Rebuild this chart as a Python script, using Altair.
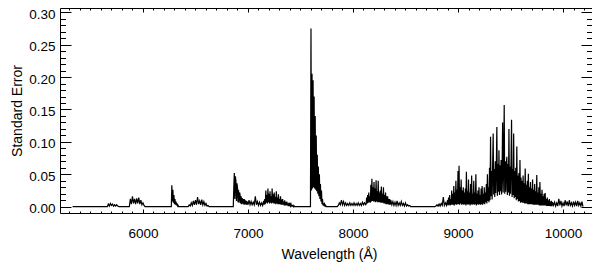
import altair as alt
import pandas as pd

# ---- data: standard error spectrum ----
# each segment: start wavelength (A), sampling step (A), values
seg_5330 = [0.0, 0.0]
seg_5660 = [0, .004, .001, .005, .002, .004, .001, .003, .001, .003, .001, 0]
seg_5870 = [0, .012, .004, .016, .005, .012, .004, .013, .005, .014, .004, .010,
            .003, .006, .002, 0]
seg_6265 = [0, 0, .033, .008, .026, .006, .018, .004, .012, .003, .008, .002,
            .005, .001, .002, 0, 0]
seg_6430 = [0, .003, .001, .006, .002, .009, .003, .010, .003, .015, .004, .009,
            .003, .011, .003, .008, .002, .005, .001, .002, 0]
seg_6860 = [0, .030, .052, .012, .047, .040, .009, .036, .030, .007,
            .026, .006, .022, .018, .005, .016, .004, .013, .011, .004,
            .012, .003, .010, .009, .003, .009, .003, .008, .003]
seg_7010 = [.010, .003, .008, .003, .007, .003, .016, .003, .008, .002,
            .007, .002, .006, .002]
seg_7150 = [.009, .003, .012, .004, .025, .006, .018, .005, .028, .007,
            .020, .005, .024, .006, .016, .005, .028, .006, .019, .005,
            .022, .005, .015, .004, .024, .005, .014, .004, .019, .004,
            .012, .004, .016, .003, .011, .003, .012, .003, .008, .002,
            .010, .002, .007, .002, .008, .002, .005, .001, .006, .001,
            .004, .001, .004, .001, .002, .001, .002, 0, .001, 0,
            0, 0, 0]
seg_7590 = [0, 0, .275, .025, .205, .028, .195, .030, .170, .028, .140, .026,
            .110, .024, .080, .020, .062, .016, .050, .012, .035, .008, .025, .004,
            .012, .002, .005, .001, .004, .001, .002, 0, 0, 0, 0]
seg_7850 = [0, .002, .006, .003, .010, .003, .008, .002, .006, .002,
            .005, .002, .006, .002, .005, .002, .006, .002, .005, .002,
            .006, .002, .005, .002, .007, .003, .006, .003]
seg_8125 = [.004, .014, .005, .018, .006, .022, .007, .016, .006, .034,
            .008, .043, .009, .030, .008, .038, .008, .028, .007, .041,
            .008, .024, .007, .040, .007, .022, .007, .025, .006, .031,
            .006, .020, .006, .030, .005, .018, .005, .022, .004, .016,
            .004, .016, .004, .012, .003, .012, .003, .010]
seg_8370 = [.003, .008, .002, .007, .002, .009, .002, .006, .002, .008,
            .002, .005, .001, .006, .001, .003, .001, .002, 0, 0, 0]
seg_8780 = [0, .001, .003, .001, .004, .001, .005, .002, .015, .002, .006, .002]
seg_8900 = [.010, .002, .014, .003, .018, .002, .012, .003, .025, .003,
            .020, .003, .032, .002, .022, .004, .040, .003, .026, .004,
            .055, .004, .063, .003, .030, .005, .042, .003, .025, .004,
            .030, .003, .022, .004, .028, .002, .054, .004, .024, .003,
            .042, .004, .022, .002, .035, .004, .048, .003, .020, .004,
            .040, .003, .022, .004, .050, .002, .020, .004, .025, .003,
            .030, .004, .018, .003, .028, .004, .032, .003, .020, .005,
            .030, .004, .022, .007, .035, .005, .050, .009, .030, .007]
seg_9300 = [.060, .010, .108, .016, .055, .011, .065, .113, .019, .058,
            .015, .070, .021, .062, .123, .017, .066, .023, .087, .018,
            .064, .024, .072, .019, .060, .130, .022, .068, .157, .020,
            .070, .023, .064, .077, .018, .066, .022, .120, .017, .062,
            .020, .070, .134, .015, .058, .018, .113, .013, .055, .015,
            .060, .010, .093, .012, .048, .008, .052, .009, .072, .006,
            .045, .007, .040, .006, .048, .006, .036, .005, .059, .005,
            .034, .005, .040, .004, .051, .004, .030, .004, .038, .004,
            .028, .004, .042, .003, .026, .003, .035, .003, .024, .003,
            .049, .003, .022, .003, .030, .002, .038, .002, .020, .002,
            .026, .002, .016, .002, .020, .002, .021, .002, .012, .001,
            .014, .001, .010, .001, .012, .001, .008, .001, .009, .001,
            .007]
seg_9910 = [.002, .007, .001, .006, .001, .012, .002, .009, .001, .006,
            .001, .010, .002, .008, .001, .010, .002, .006, .001, .008,
            .002, .007, .001, .009, .002, .006, .001, .008, 0]

segments = [
    (5330, 320, seg_5330),
    (5660, 10, seg_5660),
    (5870, 10, seg_5870),
    (6265, 5, seg_6265),
    (6430, 10, seg_6430),
    (6860, 5, seg_6860),
    (7010, 10, seg_7010),
    (7150, 5, seg_7150),
    (7590, 5, seg_7590),
    (7850, 10, seg_7850),
    (8125, 5, seg_8125),
    (8370, 10, seg_8370),
    (8780, 10, seg_8780),
    (8900, 5, seg_8900),
    (9300, 5, seg_9300),
    (9910, 10, seg_9910),
]

wl, se = [], []
for start, step, vals in segments:
    for i, v in enumerate(vals):
        wl.append(start + i * step)
        se.append(v)
df = pd.DataFrame({"wavelength": wl, "se": se})
anchor = df.iloc[[0]]

x_major = [6000, 7000, 8000, 9000, 10000]
x_minor = list(range(5300, 10201, 100))
y_major = [0.0, 0.05, 0.10, 0.15, 0.20, 0.25, 0.30]
y_minor = [round(0.01 * i, 2) for i in range(0, 31)]

W, H = 532, 205
FONT = "Liberation Sans"
xs = alt.Scale(domain=[5210, 10276], nice=False, zero=False)
ys = alt.Scale(domain=[-0.0097, 0.3066], nice=False, zero=False)

main = alt.Chart(df).mark_line(color="black", strokeWidth=1.2).encode(
    x=alt.X("wavelength:Q", scale=xs, axis=alt.Axis(
        orient="bottom", values=x_major, format="d", ticks=False, domain=False,
        grid=False, labelPadding=13.5, labelFontSize=13.5, labelFont=FONT,
        labelColor="black", labelFlush=False, labelOverlap=False,
        title="Wavelength (Å)", titleFont=FONT, titleFontSize=14,
        titleFontWeight="normal", titleColor="black", titleX=269, titleY=45.5,
        titleAlign="center", titleBaseline="alphabetic")),
    y=alt.Y("se:Q", scale=ys, axis=alt.Axis(
        orient="left", values=y_major, format=".2f", ticks=False, domain=False,
        grid=False, labelPadding=5, labelFontSize=13.5, labelFont=FONT,
        labelColor="black", labelOffset=2, labelBaseline="middle",
        labelFlush=False, labelOverlap=False,
        title="Standard Error", titleFont=FONT, titleFontSize=14,
        titleFontWeight="normal", titleColor="black", titleAngle=270,
        titleX=-39, titleY=H / 2, titleAlign="center",
        titleBaseline="alphabetic")),
)


def tick_layer(x_orient, x_vals, x_size, y_orient, y_vals, y_size):
    return alt.Chart(anchor).mark_point(opacity=0).encode(
        x=alt.X("wavelength:Q", scale=xs, title=None, axis=alt.Axis(
            orient=x_orient, offset=-H, values=x_vals, tickSize=x_size,
            labels=False, domain=False, grid=False, ticks=True,
            tickColor="black", tickWidth=1)),
        y=alt.Y("se:Q", scale=ys, title=None, axis=alt.Axis(
            orient=y_orient, offset=-W, values=y_vals, tickSize=y_size,
            labels=False, domain=False, grid=False, ticks=True,
            tickColor="black", tickWidth=1)),
    )


t_bottom_major = tick_layer("top", x_major, 4, "right", y_major, 11)
t_bottom_minor = tick_layer("top", x_minor, 2, "right", y_minor, 5.5)
t_top_major = tick_layer("bottom", x_major, 4, "left", y_major, 11)
t_top_minor = tick_layer("bottom", x_minor, 2, "left", y_minor, 5.5)

chart = alt.layer(
    main, t_bottom_major, t_bottom_minor, t_top_major, t_top_minor
).resolve_scale(
    x="independent", y="independent"
).properties(
    width=W, height=H,
    autosize=alt.AutoSizeParams(type="none"),
    padding={"left": 52, "top": 0, "right": 0, "bottom": 49},
).configure_view(stroke="black", strokeWidth=1)

chart.save("out.html", embed_options={"renderer": "svg", "actions": False})
